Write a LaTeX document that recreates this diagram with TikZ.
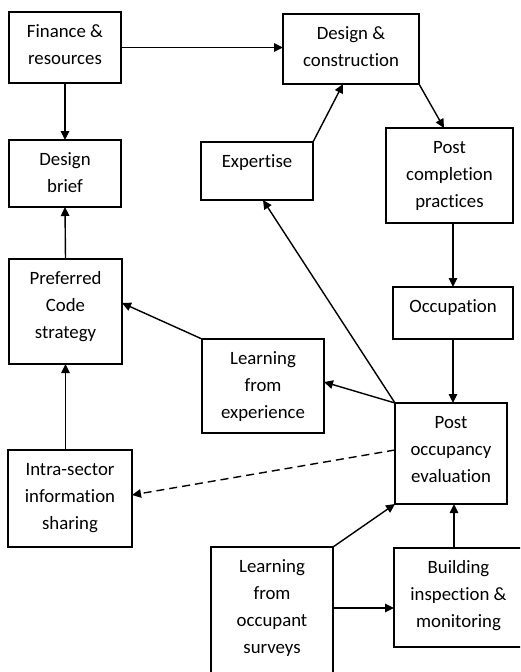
\documentclass[tikz,border=0pt]{standalone}
\usepackage{fontspec}
\setmainfont[Ligatures={NoCommon}]{Carlito}
\usetikzlibrary{arrows.meta}
\tikzset{
 box/.style={draw, line width=1.3pt, inner sep=0pt, outer sep=0pt, rectangle},
 conn/.style={line width=1.4pt, -{Triangle[length=9pt,width=8.5pt]}},
 dconn/.style={conn, dash pattern=on 8pt off 5pt},
}
\newcommand{\bxtext}[3]{\parbox[c][#2][t]{#1}{\fontsize{18.8pt}{27pt}\selectfont\centering\rule{0pt}{25pt}#3}}
\begin{document}
\begin{tikzpicture}[x=1pt,y=-1pt]
\fill[white] (0,0) rectangle (520,672);
\useasboundingbox (0,0) rectangle (520,672);
\clip (0,0) rectangle (520,672);
\node[box] (fin)   at (65,47.5)   {\bxtext{112pt}{71pt}{Finance \&\\resources}};
\node[box] (dc)    at (351,49)    {\bxtext{136pt}{70pt}{Design \&\\construction}};
\node[box] (brief) at (65,173.5)  {\bxtext{112pt}{67pt}{Design\\brief}};
\node[box] (exp)   at (257,171)   {\bxtext{112pt}{58pt}{Expertise}};
\node[box] (pc)    at (449.5,175.5) {\bxtext{127pt}{95pt}{Post\\completion\\practices}};
\node[box] (pref)  at (65.5,311.5) {\bxtext{113pt}{105pt}{Preferred\\Code\\strategy}};
\node[box] (occ)   at (453,313)   {\bxtext{120pt}{52pt}{Occupation}};
\node[box] (lfe)   at (263,386)   {\bxtext{122pt}{94pt}{Learning\\from\\experience}};
\node[box] (poe)   at (451,453.5) {\bxtext{112pt}{101pt}{Post\\occupancy\\evaluation}};
\node[box] (intra) at (70,498.5)  {\bxtext{124pt}{97pt}{Intra-sector\\information\\sharing}};
\node[box] (lfo)   at (272,617)   {\bxtext{122pt}{140pt}{Learning\\from\\occupant\\surveys}};
\node[box] (bim)   at (458.5,597.5) {\bxtext{129pt}{99pt}{Building\\inspection \&\\monitoring}};
% connectors
\draw[conn] (fin.east) -- (fin.east -| dc.west);
\draw[conn] (fin.south) -- (brief.north);
\draw[conn] (pref.north) -- (brief.south);
\draw[conn] (pref.south |- intra.north) -- (pref.south);
\draw[conn] (exp.north east) -- ([xshift=-8pt]dc.south);
\draw[conn] (dc.south east) -- ([xshift=-5.5pt]pc.north);
\draw[conn] (pc.south -| occ.north) -- (occ.north);
\draw[conn] (occ.south) -- (occ.south |- poe.north);
\draw[conn] (poe.north west) -- ([yshift=4pt]lfe.east);
\draw[conn] (poe.north west) -- ([xshift=6pt]exp.south);
\draw[conn] (lfe.north west) -- ([yshift=8.5pt]pref.east);
\draw[dconn] ([yshift=3.5pt]poe.west) -- ([yshift=3.5pt]intra.east);
\draw[conn] (lfo.north east) -- (poe.south west);
\coordinate (bimin) at ([yshift=-10.5pt]bim.west);
\draw[conn] (lfo.east |- bimin) -- (bimin);
\coordinate (bimtop) at ([xshift=-4.5pt]bim.north);
\draw[conn] (bimtop) -- (bimtop |- poe.south);
\end{tikzpicture}
\end{document}
